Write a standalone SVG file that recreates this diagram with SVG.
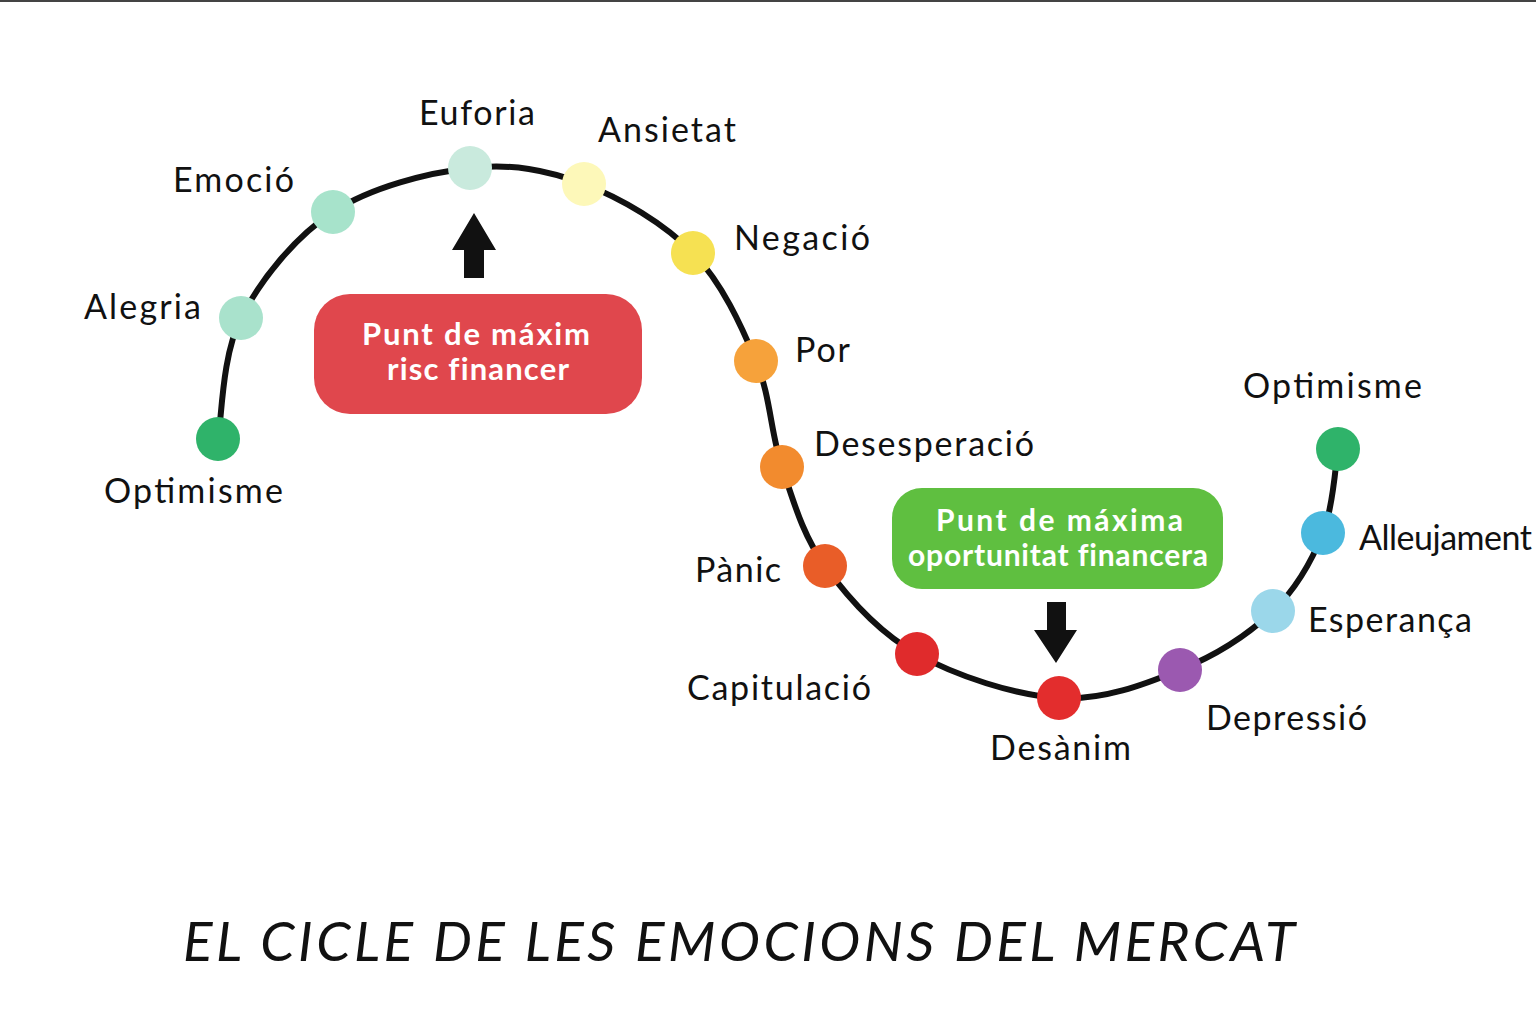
<svg xmlns="http://www.w3.org/2000/svg" width="1536" height="1024" viewBox="0 0 1536 1024">
<style>
.lbl{font-family:Lato,"Noto Sans",sans-serif;font-size:34px;fill:#111}
.box{font-family:Lato,"Noto Sans",sans-serif;font-size:31px;font-weight:bold;fill:#fff;font-variant-ligatures:none}
.box2{font-family:Lato,"Noto Sans",sans-serif;font-size:30px;font-weight:bold;fill:#fff;font-variant-ligatures:none}
.title{font-family:Lato,"Noto Sans",sans-serif;font-size:55px;font-style:italic;fill:#111}
.curve{fill:none;stroke:#111;stroke-width:6;stroke-linecap:round}
</style>
<rect x="0" y="0" width="1536" height="1024" fill="#fff"/>
<rect x="0" y="0" width="1536" height="2" fill="#444"/>
<g id="connectors">
<path class="curve" d="M218,439 C221.8,418.8 221.8,355.8 241,318 C260.2,280.2 294.8,237 333,212 C371.2,187 428.2,172.7 470,168 C511.8,163.3 546.8,169.8 584,184 C621.2,198.2 664.3,223.5 693,253 C721.7,282.5 741.2,325.3 756,361 C770.8,396.7 770.5,432.8 782,467 C793.5,501.2 802.5,534.8 825,566 C847.5,597.2 878,632 917,654 C956,676 1015.2,695.3 1059,698 C1102.8,700.7 1144.3,684.5 1180,670 C1215.7,655.5 1249.2,633.8 1273,611 C1296.8,588.2 1312.2,560 1323,533 C1333.8,506 1335.5,463 1338,449"/>
<path id="arrow-up" d="M464,278 L484,278 L484,250 L496,250 L474,213 L452,250 L464,250 Z" fill="#111"/>
<path id="arrow-down" d="M1047,602 L1066,602 L1066,630 L1077,630 L1056,663 L1034,630 L1047,630 Z" fill="#111"/>
</g>
<g id="box-risc">
<rect x="314" y="294" width="328" height="120" rx="36" fill="#e0474d"/>
<text class="box" x="362" y="345" textLength="228" lengthAdjust="spacing">Punt de máxim</text>
<text class="box" x="387" y="380" textLength="182" lengthAdjust="spacing">risc financer</text>
</g>
<g id="box-oportunitat">
<rect x="892" y="488" width="331" height="101" rx="30" fill="#5fbf40"/>
<text class="box2" x="936" y="531" textLength="247" lengthAdjust="spacing">Punt de máxima</text>
<text class="box2" x="908" y="566" textLength="300" lengthAdjust="spacing">oportunitat financera</text>
</g>
<g id="n-optimisme1"><circle cx="218" cy="439" r="22" fill="#2fb36a"/><text class="lbl" x="104" y="503" textLength="179" lengthAdjust="spacing">Optimisme</text></g>
<g id="n-alegria"><circle cx="241" cy="318" r="22" fill="#a9e2cc"/><text class="lbl" x="84" y="319" textLength="117" lengthAdjust="spacing">Alegria</text></g>
<g id="n-emocio"><circle cx="333" cy="212" r="22" fill="#a7e3cb"/><text class="lbl" x="173" y="192" textLength="121" lengthAdjust="spacing">Emoció</text></g>
<g id="n-euforia"><circle cx="470" cy="168" r="22" fill="#c9eadd"/><text class="lbl" x="419" y="125" textLength="116" lengthAdjust="spacing">Euforia</text></g>
<g id="n-ansietat"><circle cx="584" cy="184" r="22" fill="#fdf8b9"/><text class="lbl" x="598" y="142" textLength="138" lengthAdjust="spacing">Ansietat</text></g>
<g id="n-negacio"><circle cx="693" cy="253" r="22" fill="#f6e152"/><text class="lbl" x="734" y="250" textLength="136" lengthAdjust="spacing">Negació</text></g>
<g id="n-por"><circle cx="756" cy="361" r="22" fill="#f6a23b"/><text class="lbl" x="795" y="362" textLength="55" lengthAdjust="spacing">Por</text></g>
<g id="n-desesperacio"><circle cx="782" cy="467" r="22" fill="#f28b2e"/><text class="lbl" x="814" y="456" textLength="220" lengthAdjust="spacing">Desesperació</text></g>
<g id="n-panic"><circle cx="825" cy="566" r="22" fill="#e95d28"/><text class="lbl" x="695" y="582" textLength="86" lengthAdjust="spacing">Pànic</text></g>
<g id="n-capitulacio"><circle cx="917" cy="654" r="22" fill="#e02b2c"/><text class="lbl" x="687" y="700" textLength="184" lengthAdjust="spacing">Capitulació</text></g>
<g id="n-desanim"><circle cx="1059" cy="698" r="22" fill="#e32d2d"/><text class="lbl" x="990" y="760" textLength="141" lengthAdjust="spacing">Desànim</text></g>
<g id="n-depressio"><circle cx="1180" cy="670" r="22" fill="#9b59b0"/><text class="lbl" x="1206" y="730" textLength="161" lengthAdjust="spacing">Depressió</text></g>
<g id="n-esperanca"><circle cx="1273" cy="611" r="22" fill="#9bd7ea"/><text class="lbl" x="1308" y="632" textLength="164" lengthAdjust="spacing">Esperança</text></g>
<g id="n-alleujament"><circle cx="1323" cy="533" r="22" fill="#4bb9de"/><text class="lbl" x="1359" y="550" textLength="173" lengthAdjust="spacing">Alleujament</text></g>
<g id="n-optimisme2"><circle cx="1338" cy="449" r="22" fill="#2fb36a"/><text class="lbl" x="1243" y="398" textLength="179" lengthAdjust="spacing">Optimisme</text></g>
<text class="title" x="183" y="961" textLength="1112" lengthAdjust="spacing">EL CICLE DE LES EMOCIONS DEL MERCAT</text>
</svg>
